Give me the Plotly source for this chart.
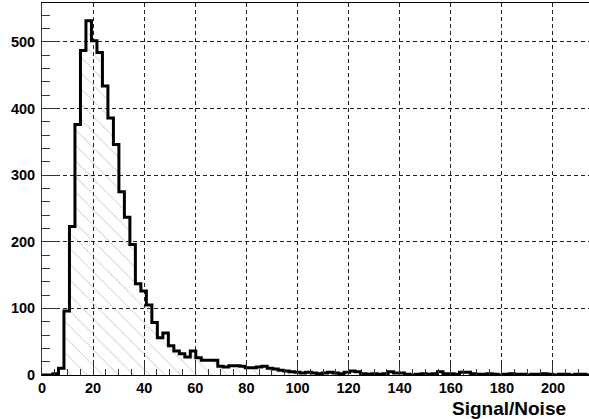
import numpy as np
import plotly.graph_objects as go

# Histogram: 100 bins of width 2.15 over [0, 215]
bin_width = 2.15
counts = [
    0, 0, 2, 10, 96, 223, 376, 487, 532, 502,
    484, 434, 386, 346, 275, 237, 196, 137, 126, 105,
    79, 56, 63, 44, 36, 32, 27, 36, 26, 22,
    22, 22, 13, 12, 14, 14, 13, 11, 11, 12,
    13, 10, 9, 7, 6, 5, 4, 3, 4, 3,
    2, 3, 4, 3, 2, 4, 6, 5, 2, 1,
    2, 1, 2, 5, 3, 3, 1, 0, 1, 2,
    1, 2, 5, 2, 2, 1, 4, 4, 2, 1,
    1, 2, 1, 0, 1, 2, 1, 1, 0, 1,
    1, 2, 1, 0, 1, 1, 0, 1, 1, 0,
]
x_ticks = [0, 20, 40, 60, 80, 100, 120, 140, 160, 180, 200]
y_ticks = [0, 100, 200, 300, 400, 500]

edges = np.arange(len(counts) + 1) * bin_width
step_y = list(counts) + [counts[-1]]

fig = go.Figure()

# hatched fill under the histogram
fig.add_trace(go.Scatter(
    x=edges, y=step_y, mode="lines", line_shape="hv",
    line=dict(width=0, color="rgba(0,0,0,0)"),
    fill="tozeroy", fillcolor="rgba(0,0,0,0)",
    fillpattern=dict(shape="\\", size=11, solidity=0.07,
                     fgcolor="#777777", bgcolor="rgba(0,0,0,0)"),
    hoverinfo="skip", showlegend=False,
))

# histogram outline
fig.add_trace(go.Scatter(
    x=edges, y=step_y, mode="lines", line_shape="hv",
    line=dict(width=3, color="black"),
    showlegend=False,
))

font_family = "Liberation Sans, Arial, Helvetica, sans-serif"
tick_font = dict(family=font_family, size=14.5, color="black", weight="bold")

fig.update_layout(
    width=589, height=419,
    margin=dict(l=42, r=0, t=3, b=44),
    paper_bgcolor="white", plot_bgcolor="white",
    xaxis=dict(
        range=[0, 214.1],
        tickvals=x_ticks,
        ticks="inside", ticklen=11, tickcolor="#333", tickwidth=1,
        minor=dict(dtick=5, ticks="inside", ticklen=6, tickcolor="#333",
                   showgrid=False),
        showgrid=True, gridcolor="#222", gridwidth=1, griddash="4px,3px",
        showline=True, linecolor="black", linewidth=1, mirror=True,
        zeroline=False,
        tickfont=tick_font,
        ticklabelstandoff=0,
    ),
    yaxis=dict(
        range=[0, 558.5],
        tickvals=y_ticks,
        ticks="inside", ticklen=16, tickcolor="#333", tickwidth=1,
        minor=dict(dtick=20, ticks="inside", ticklen=8, tickcolor="#333",
                   showgrid=False),
        showgrid=True, gridcolor="#222", gridwidth=1, griddash="4px,3px",
        showline=True, linecolor="#333", linewidth=1, mirror=False,
        zeroline=False,
        tickfont=tick_font,
        ticklabelstandoff=3,
    ),
    annotations=[dict(
        text="Signal/Noise", xref="paper", yref="paper",
        x=0.9616, y=-0.089, xanchor="right", yanchor="middle",
        showarrow=False,
        font=dict(family=font_family, size=19, color="black", weight="bold"),
    )],
)

fig.write_html("out.html")
